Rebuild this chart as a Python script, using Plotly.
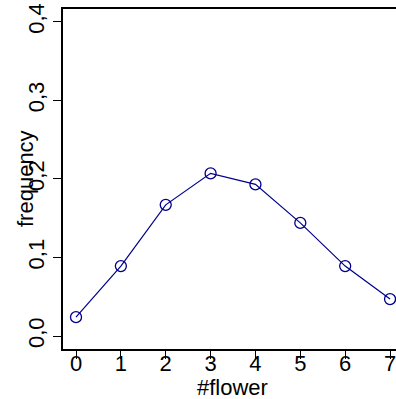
import plotly.graph_objects as go

# number of flowers per plant and the observed relative frequency
flowers = [0, 1, 2, 3, 4, 5, 6, 7]
frequency = [0.024, 0.089, 0.167, 0.207, 0.193, 0.144, 0.089, 0.047]
y_ticks = [0.0, 0.1, 0.2, 0.3, 0.4]

LINE = "#00008B"
FONT = "Liberation Sans, Arial, Helvetica, sans-serif"
SIZE = 22

fig = go.Figure(
    go.Scatter(
        x=flowers,
        y=frequency,
        mode="lines+markers",
        line=dict(color=LINE, width=1.2),
        marker=dict(symbol="circle-open", size=11, color=LINE, line=dict(width=1.3, color=LINE)),
        showlegend=False,
    )
)

fig.update_layout(
    width=396,
    height=399,
    margin=dict(l=63, r=0, t=9, b=50),
    paper_bgcolor="white",
    plot_bgcolor="white",
    separators=",.",
    font=dict(family=FONT, size=SIZE, color="black"),
    annotations=[
        dict(text="#flower", xref="x", yref="paper", x=3.48, y=0,
             yanchor="middle", yshift=-38, showarrow=False,
             font=dict(family=FONT, size=SIZE, color="black")),
        dict(text="frequency", xref="paper", yref="paper", x=0, y=0.5,
             xanchor="center", xshift=-38, textangle=-90, showarrow=False,
             font=dict(family=FONT, size=SIZE, color="black")),
    ],
)

fig.update_xaxes(
    range=[-0.29, 7.133],
    tickvals=flowers,
    ticks="outside",
    ticklen=8,
    tickwidth=1.3,
    tickcolor="black",
    ticklabelstandoff=-14,
    ticklabeloverflow="allow",
    showline=True,
    linecolor="black",
    linewidth=1.5,
    mirror=True,
    showgrid=False,
    zeroline=False,
    tickfont=dict(family=FONT, size=SIZE, color="black"),
)

fig.update_yaxes(
    range=[-0.0165, 0.4162],
    tickvals=y_ticks,
    tickformat=".1f",
    tickangle=-90,
    ticks="outside",
    ticklen=8,
    tickwidth=1.3,
    tickcolor="black",
    showline=True,
    linecolor="black",
    linewidth=1.5,
    mirror=False,
    showgrid=False,
    zeroline=False,
    tickfont=dict(family=FONT, size=SIZE, color="black"),
)

fig.write_html("out.html")
